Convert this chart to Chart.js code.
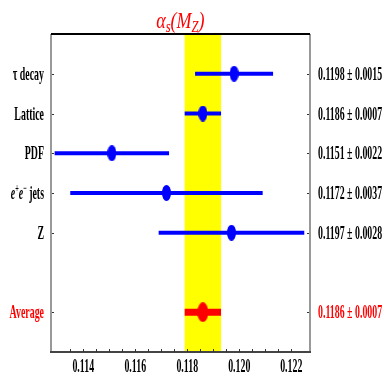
<!DOCTYPE html>
<html>
<head>
<meta charset="utf-8">
<script src="https://cdn.jsdelivr.net/npm/chart.js@4.4.1/dist/chart.umd.min.js"></script>
<style>
  body { margin: 0; background: #fff; }
  #wrap { position: relative; width: 388px; height: 375px; }
  #title {
    position: absolute; left: 0; top: 8px; width: 361px; text-align: center;
    font: italic 24px "Liberation Serif", serif; line-height: 1; color: #ff0000;
    transform: scaleX(0.75); transform-origin: 180px 0;
  }
  #title sub { font-size: 70%; vertical-align: -4px; }
</style>
</head>
<body>
<div id="wrap">
  <canvas id="chart" width="388" height="375"></canvas>
  <div id="title">α<sub>s</sub>(M<sub>Z</sub>)</div>
</div>
<script>
const rowLabels = ["τ decay", "Lattice", "PDF", "e⁺e⁻ jets", "Z", "Average"];
const rowPositions = [1, 2, 3, 4, 5, 7];
const centralValues = [0.1198, 0.1186, 0.1151, 0.1172, 0.1197, 0.1186];
const errorValues = [0.0015, 0.0007, 0.0022, 0.0037, 0.0028, 0.0007];
const valueLabels = ["0.1198 ± 0.0015", "0.1186 ± 0.0007", "0.1151 ± 0.0022",
                     "0.1172 ± 0.0037", "0.1197 ± 0.0028", "0.1186 ± 0.0007"];
const xTickLabels = [0.114, 0.116, 0.118, 0.120, 0.122];
const xMin = 0.11276;
const xMax = 0.12272;
const xMinorStep = 0.0005;
const averageIndex = 5;

const BLUE = "#0000ff";
const RED = "#ff0000";
const SX = 0.52;
const FONT = '"Liberation Serif", serif';

// ellipse markers used as point styles
function ellipse(w, h, color) {
    const c = document.createElement("canvas");
    c.width = w; c.height = h;
    const g = c.getContext("2d");
    g.fillStyle = color;
    g.beginPath();
    g.ellipse(w / 2, h / 2, w / 2, h / 2, 0, 0, Math.PI * 2);
    g.fill();
    return c;
}

const measured = rowPositions.map((r, i) => i).filter(i => i !== averageIndex);
const barData = i => ({ x: [centralValues[i] - errorValues[i], centralValues[i] + errorValues[i]], y: rowPositions[i] });
const pointData = i => ({ x: centralValues[i], y: rowPositions[i] });

// split labels like e⁺e⁻ into italic / superscript runs
function runsOf(text) {
    const runs = [];
    for (let i = 0; i < text.length; i++) {
        const c = text[i], next = text[i + 1];
        const last = runs[runs.length - 1];
        if (c === "⁺" || c === "⁻") runs.push({ t: c === "⁺" ? "+" : "−", sup: true });
        else if (next === "⁺" || next === "⁻") runs.push({ t: c, italic: true });
        else if (last && !last.sup && !last.italic) last.t += c;
        else runs.push({ t: c });
    }
    return runs;
}

function runFont(run) {
    if (run.sup) return "bold 12px " + FONT;
    if (run.italic) return "italic bold 19px " + FONT;
    return "bold 19px " + FONT;
}

function drawText(ctx, text, x, y, align, color) {
    const runs = runsOf(text);
    ctx.save();
    ctx.translate(x, y);
    ctx.scale(SX, 1);
    ctx.fillStyle = color;
    ctx.textBaseline = "alphabetic";
    ctx.textAlign = "left";
    let total = 0;
    runs.forEach(r => { ctx.font = runFont(r); r.w = ctx.measureText(r.t).width; total += r.w; });
    let cx = align === "right" ? -total : align === "center" ? -total / 2 : 0;
    runs.forEach(r => {
        ctx.font = runFont(r);
        ctx.fillText(r.t, cx, r.sup ? -7 : 0);
        cx += r.w;
    });
    ctx.restore();
}

const bandPlugin = {
    id: "band",
    beforeDatasetsDraw(chart) {
        const { ctx, chartArea: a, scales: { x } } = chart;
        const lo = x.getPixelForValue(centralValues[averageIndex] - errorValues[averageIndex]);
        const hi = x.getPixelForValue(centralValues[averageIndex] + errorValues[averageIndex]);
        ctx.save();
        ctx.fillStyle = "#ffff00";
        ctx.fillRect(lo, a.top, hi - lo, a.bottom - a.top);
        ctx.restore();
    }
};

const framePlugin = {
    id: "frame",
    afterDraw(chart) {
        const { ctx, chartArea: a, scales: { x, y } } = chart;
        ctx.save();
        // frame
        ctx.lineWidth = 2;
        ctx.strokeStyle = "#999999";
        ctx.beginPath(); ctx.moveTo(a.left, a.top); ctx.lineTo(a.left, a.bottom); ctx.stroke();
        ctx.beginPath(); ctx.moveTo(a.right, a.top); ctx.lineTo(a.right, a.bottom); ctx.stroke();
        ctx.strokeStyle = "#000000";
        ctx.beginPath(); ctx.moveTo(a.left, a.top); ctx.lineTo(a.right, a.top); ctx.stroke();
        ctx.strokeStyle = "#444444";
        ctx.beginPath(); ctx.moveTo(a.left - 1, a.bottom); ctx.lineTo(a.right + 1, a.bottom); ctx.stroke();

        // bottom ticks (inside)
        ctx.lineWidth = 1;
        ctx.strokeStyle = "#333333";
        x.ticks.forEach(t => {
            const q = t.value / xMinorStep;
            if (Math.abs(q - Math.round(q)) > 1e-6) return;
            const px = Math.round(x.getPixelForValue(t.value)) + 0.5;
            ctx.beginPath(); ctx.moveTo(px, a.bottom); ctx.lineTo(px, a.bottom - 3); ctx.stroke();
        });
        // row ticks on both sides
        rowPositions.forEach(r => {
            const py = Math.round(y.getPixelForValue(r)) + 0.5;
            ctx.beginPath(); ctx.moveTo(a.left + 1, py); ctx.lineTo(a.left + 3, py); ctx.stroke();
            ctx.beginPath(); ctx.moveTo(a.right - 1, py); ctx.lineTo(a.right - 3, py); ctx.stroke();
        });
        ctx.restore();

        // labels
        xTickLabels.forEach(v => drawText(ctx, v.toFixed(3), x.getPixelForValue(v), a.bottom + 20, "center", "#000"));
        rowLabels.forEach((lab, i) => {
            const py = y.getPixelForValue(rowPositions[i]) + 6;
            const color = i === averageIndex ? RED : "#000";
            drawText(ctx, lab, a.left - 7, py, "right", color);
            drawText(ctx, valueLabels[i], a.right + 8, py, "left", color);
        });
    }
};

new Chart(document.getElementById("chart"), {
    type: "scatter",
    data: {
        datasets: [
            {
                type: "scatter", order: 0,
                data: measured.map(pointData),
                pointStyle: ellipse(9, 16, BLUE)
            },
            {
                type: "scatter", order: 0,
                data: [pointData(averageIndex)],
                pointStyle: ellipse(11, 20, RED)
            },
            {
                type: "bar", order: 1, indexAxis: "y", grouped: false,
                data: measured.map(barData),
                backgroundColor: BLUE, borderWidth: 0, maxBarThickness: 4
            },
            {
                type: "bar", order: 1, indexAxis: "y", grouped: false,
                data: [barData(averageIndex)],
                backgroundColor: RED, borderWidth: 0, maxBarThickness: 7
            }
        ]
    },
    options: {
        responsive: false,
        animation: false,
        events: [],
        layout: { padding: { left: 51, right: 78, top: 34, bottom: 23 } },
        plugins: { legend: { display: false }, tooltip: { enabled: false } },
        scales: {
            x: {
                type: "linear", min: xMin, max: xMax, offset: false,
                ticks: { display: false, stepSize: xMinorStep },
                grid: { display: false, drawTicks: false, offset: false },
                border: { display: false }
            },
            y: {
                type: "linear", min: 0, max: 8, reverse: true, offset: false,
                ticks: { display: false },
                grid: { display: false, drawTicks: false, offset: false },
                border: { display: false }
            }
        }
    },
    plugins: [bandPlugin, framePlugin]
});
</script>
</body>
</html>
